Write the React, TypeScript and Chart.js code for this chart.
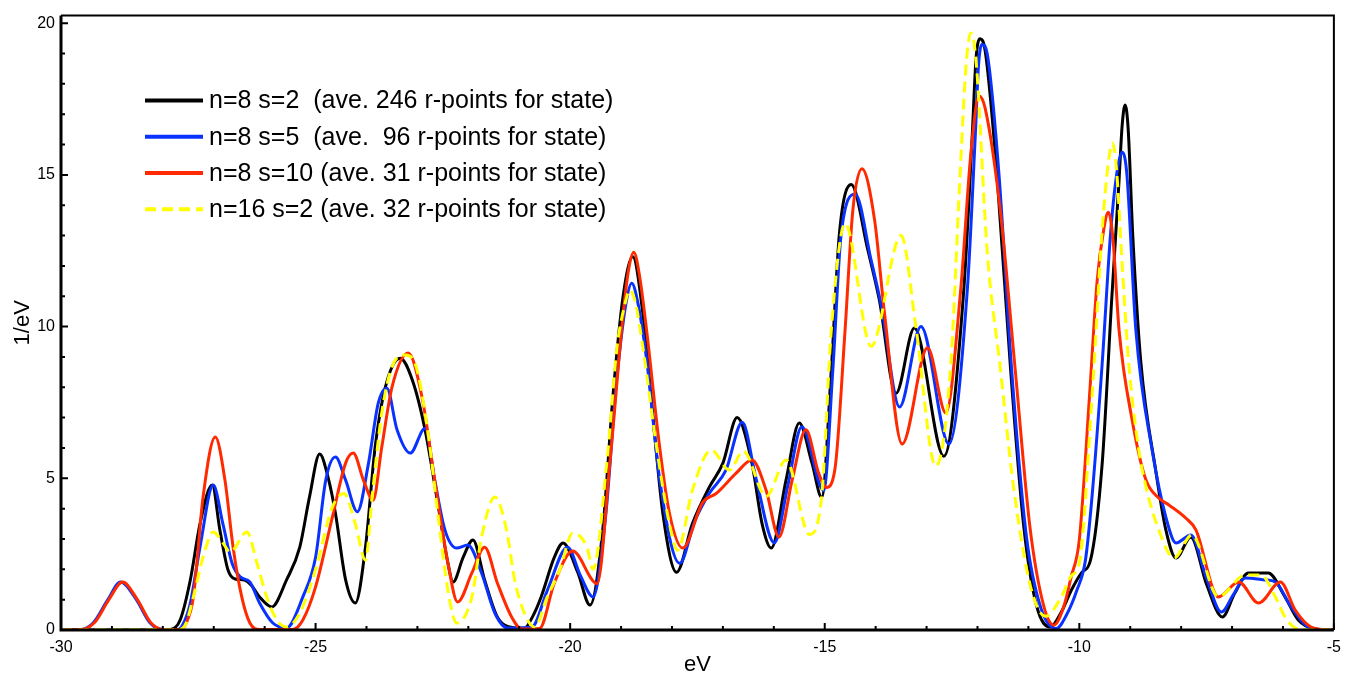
import React, { useEffect, useRef } from 'react';
import { Chart, registerables } from 'chart.js';

Chart.register(...registerables);

// ---- data (eV, 1/eV) ----
const blackX = [-30, -28, -27.85, -27.66, -27.46, -27.27, -27.03, -26.88, -26.72, -26.58, -26.4, -26.25, -26.1, -25.86, -25.57, -25.31, -25.12, -24.92, -24.75, -24.61, -24.41, -24.22, -24.02, -23.83, -23.63, -23.34, -23.1, -22.85, -22.6, -22.4, -22.3, -22.1, -21.91, -21.68, -21.43, -21.09, -20.9, -20.75, -20.57, -20.31, -20.14, -19.85, -19.61, -19.36, -19.16, -18.96, -18.77, -18.57, -18.38, -18.18, -17.91, -17.6, -17.27, -17.0, -16.72, -16.43, -16.23, -16.05, -15.76, -15.5, -15.25, -15.06, -14.87, -14.71, -14.48, -14.15, -13.93, -13.6, -13.24, -12.66, -12.27, -12.1, -12.03, -11.95, -11.85, -11.62, -11.35, -11.09, -10.84, -10.57, -10.35, -10.16, -9.95, -9.78, -9.55, -9.36, -9.22, -9.16, -9.1, -9.04, -8.95, -8.79, -8.5, -8.3, -8.1, -7.81, -7.5, -7.19, -6.95, -6.68, -6.29, -5.96, -5.7, -5.31, -5];
const blackY = [0, 0, 0.02, 0.33, 1.65, 3.5, 4.78, 3.3, 1.98, 1.68, 1.65, 1.45, 1.09, 0.76, 1.65, 2.73, 4.38, 5.8, 5.0, 3.85, 1.65, 0.89, 2.73, 6.03, 8.0, 8.96, 8.24, 6.6, 4.18, 2.2, 1.58, 2.4, 2.97, 1.65, 0.43, 0.07, 0.05, 0.4, 1.09, 2.4, 2.87, 1.9, 0.82, 3.3, 7.7, 11.0, 12.3, 10.4, 7.15, 3.85, 1.9, 3.5, 4.7, 5.5, 7.0, 5.5, 3.5, 2.7, 4.94, 6.82, 5.5, 4.38, 8.6, 13.1, 14.68, 12.5, 10.9, 7.8, 9.95, 5.73, 11.18, 16.4, 18.8, 19.49, 19.1, 15.07, 8.6, 3.4, 0.8, 0.1, 0.6, 1.3, 1.9, 2.3, 5.5, 11.0, 14.8, 16.6, 17.3, 16.5, 13.0, 8.8, 5.27, 3.3, 2.37, 3.06, 1.5, 0.43, 1.2, 1.88, 1.88, 1.09, 0.33, 0.02, 0];

const blueX = [-30, -29.6, -29.36, -29.08, -28.83, -28.52, -28.26, -28.0, -27.7, -27.6, -27.46, -27.27, -27.01, -26.82, -26.64, -26.48, -26.29, -26.1, -25.84, -25.57, -25.25, -25.0, -24.8, -24.61, -24.41, -24.18, -23.96, -23.77, -23.6, -23.4, -23.14, -22.85, -22.66, -22.46, -22.23, -22.01, -21.74, -21.48, -21.23, -20.75, -20.45, -20.05, -19.8, -19.55, -19.3, -19.1, -18.9, -18.79, -18.66, -18.49, -18.24, -17.85, -17.55, -17.27, -16.94, -16.62, -16.35, -15.99, -15.72, -15.45, -15.02, -14.84, -14.68, -14.4, -14.09, -13.89, -13.53, -13.11, -12.56, -12.2, -12.04, -11.98, -11.91, -11.8, -11.58, -11.33, -11.04, -10.75, -10.45, -10.25, -10.05, -9.88, -9.75, -9.55, -9.38, -9.25, -9.16, -9.07, -8.89, -8.57, -8.3, -8.1, -7.81, -7.5, -7.21, -6.98, -6.74, -6.35, -6.15, -5.84, -5.51, -5.2, -5];
const blueY = [0, 0.02, 0.25, 1.0, 1.58, 1.0, 0.25, 0.02, 0.02, 0.2, 0.89, 2.73, 4.78, 3.5, 2.2, 1.75, 1.58, 0.89, 0.23, 0.07, 1.09, 2.4, 4.94, 5.7, 4.94, 3.9, 5.5, 7.47, 7.97, 6.6, 5.83, 6.65, 4.94, 3.3, 2.7, 2.8, 1.88, 0.56, 0.07, 0.1, 1.3, 2.73, 1.8, 1.09, 3.8, 8.0, 10.8, 11.43, 10.7, 8.8, 4.94, 2.2, 3.6, 4.5, 5.27, 6.85, 5.0, 2.87, 4.8, 6.7, 4.6, 8.6, 13.0, 14.36, 12.2, 10.7, 7.35, 10.0, 6.13, 11.2, 16.4, 18.6, 19.3, 18.9, 15.07, 8.6, 3.1, 0.7, 0.05, 0.5, 1.3, 2.3, 4.4, 8.8, 13.2, 15.2, 15.75, 15.1, 9.9, 5.93, 3.72, 2.87, 3.13, 1.7, 0.59, 1.15, 1.71, 1.65, 1.58, 0.76, 0.1, 0.01, 0];

const redX = [-30, -29.6, -29.34, -29.06, -28.79, -28.5, -28.24, -28.0, -27.65, -27.55, -27.4, -27.21, -26.97, -26.78, -26.62, -26.45, -26.29, -26.1, -25.45, -25.25, -25.0, -24.67, -24.41, -24.26, -24.06, -23.87, -23.7, -23.5, -23.18, -22.91, -22.66, -22.4, -22.21, -21.93, -21.68, -21.43, -21.15, -20.95, -20.6, -20.31, -19.95, -19.47, -19.22, -18.96, -18.85, -18.75, -18.64, -18.5, -18.24, -18.05, -17.79, -17.4, -17.13, -16.74, -16.43, -16.15, -15.9, -15.64, -15.37, -15.12, -14.97, -14.8, -14.6, -14.45, -14.27, -14.02, -13.83, -13.48, -12.98, -12.62, -12.33, -12.13, -11.97, -11.85, -11.55, -11.26, -10.97, -10.7, -10.5, -10.3, -10.16, -10.0, -9.8, -9.65, -9.52, -9.43, -9.34, -9.22, -8.96, -8.69, -8.44, -8.24, -7.91, -7.71, -7.27, -6.87, -6.48, -6.05, -5.76, -5.45, -5.15, -5];
const redY = [0, 0.02, 0.25, 1.0, 1.58, 1.0, 0.25, 0.02, 0.02, 0.2, 1.09, 4.38, 6.36, 4.94, 2.73, 1.09, 0.23, 0.02, 0.02, 0.33, 1.42, 3.72, 5.5, 5.83, 4.94, 4.28, 6.03, 8.0, 9.13, 7.68, 4.94, 2.2, 0.92, 1.88, 2.73, 1.55, 0.43, 0.03, 0.05, 1.55, 2.6, 1.53, 5.5, 10.4, 11.9, 12.45, 11.7, 9.9, 6.0, 3.85, 2.7, 4.2, 4.5, 5.17, 5.6, 4.6, 3.06, 4.94, 6.6, 5.17, 4.7, 5.3, 9.9, 13.8, 15.2, 13.5, 10.5, 6.13, 9.3, 7.15, 11.2, 15.7, 17.6, 17.2, 13.8, 8.6, 3.4, 0.8, 0.16, 0.8, 1.75, 2.97, 7.7, 11.5, 13.2, 13.77, 12.9, 9.9, 6.9, 4.94, 4.35, 4.12, 3.69, 3.3, 1.09, 1.58, 0.89, 1.58, 0.66, 0.1, 0.01, 0];

const yellowX = [-30, -27.7, -27.55, -27.4, -27.21, -27.01, -26.82, -26.68, -26.35, -26.15, -25.96, -25.76, -25.57, -25.31, -25.0, -24.67, -24.44, -24.22, -24.02, -23.89, -23.7, -23.5, -23.24, -23.05, -22.8, -22.6, -22.4, -22.23, -21.93, -21.74, -21.48, -21.25, -21.09, -20.9, -20.7, -20.45, -20.2, -19.95, -19.67, -19.55, -19.28, -19.08, -18.93, -18.83, -18.72, -18.57, -18.3, -18.05, -17.89, -17.6, -17.23, -16.87, -16.6, -16.15, -15.76, -15.3, -15.06, -14.87, -14.6, -14.09, -13.5, -13.21, -12.82, -12.53, -12.34, -12.22, -12.13, -12.03, -11.81, -11.55, -11.29, -10.96, -10.66, -10.35, -10.15, -10.0, -9.75, -9.55, -9.43, -9.35, -9.27, -9.16, -9.03, -8.84, -8.69, -8.44, -8.14, -7.79, -7.27, -6.74, -6.43, -6.15, -5.96, -5.76, -5.5, -5];
const yellowY = [0, 0.01, 0.2, 1.09, 2.4, 3.23, 2.87, 2.57, 3.23, 2.2, 1.09, 0.33, 0.1, 0.56, 2.0, 4.05, 4.5, 3.5, 2.3, 4.38, 7.15, 8.67, 9.06, 8.8, 6.6, 3.85, 1.3, 0.23, 1.09, 3.06, 4.38, 3.3, 1.65, 0.56, 0.1, 1.09, 2.0, 3.2, 2.73, 2.0, 5.5, 9.3, 10.7, 11.2, 10.8, 9.3, 6.0, 3.5, 2.63, 4.6, 5.93, 5.27, 5.9, 4.4, 5.6, 3.15, 4.4, 9.9, 13.4, 9.35, 13.0, 10.0, 5.4, 8.6, 15.07, 18.7, 19.68, 18.8, 12.5, 8.6, 4.7, 1.45, 0.45, 1.1, 1.8, 2.2, 7.7, 13.2, 15.4, 16.05, 15.2, 12.1, 8.8, 6.03, 4.71, 3.3, 2.37, 3.13, 1.1, 1.81, 1.81, 1.09, 0.43, 0.07, 0, 0];

const seriesLabels = [
  'n=8 s=2  (ave. 246 r-points for state)',
  'n=8 s=5  (ave.  96 r-points for state)',
  'n=8 s=10 (ave. 31 r-points for state)',
  'n=16 s=2 (ave. 32 r-points for state)',
];

const xMajorTicks = [-30, -25, -20, -15, -10, -5];
const xMinorTicks = [-29, -28, -27, -26, -24, -23, -22, -21, -19, -18, -17, -16, -14, -13, -12, -11, -9, -8, -7, -6];
const yMajorTicks = [0, 5, 10, 15, 20];
const yMinorTicks = [1, 2, 3, 4, 6, 7, 8, 9, 11, 12, 13, 14, 16, 17, 18, 19];

const FONT = "'Liberation Sans', Arial, Helvetica, sans-serif";

export default function App() {
  const ref = useRef<HTMLCanvasElement>(null);

  useEffect(() => {
    const canvas = ref.current;
    if (!canvas) return;
    const toPts = (xs: number[], ys: number[]) => xs.map((x, i) => ({ x, y: ys[i] }));

    const framePlugin = {
      id: 'frameTicksLegend',
      afterDatasetsDraw(chart: any) {
        const { ctx, chartArea: a, scales } = chart;
        const xs = scales.x;
        const ys = scales.y;
        ctx.save();
        ctx.strokeStyle = '#000';
        ctx.lineWidth = 2;
        ctx.beginPath();
        ctx.moveTo(a.left, a.top);
        ctx.lineTo(a.right, a.top);
        ctx.lineTo(a.right, a.bottom);
        ctx.stroke();
        ctx.lineWidth = 3;
        ctx.beginPath();
        ctx.moveTo(a.left, a.top);
        ctx.lineTo(a.left, a.bottom);
        ctx.lineTo(a.right, a.bottom);
        ctx.stroke();
        ctx.lineWidth = 2;
        ctx.beginPath();
        xMajorTicks.forEach((v) => {
          const p = xs.getPixelForValue(v);
          ctx.moveTo(p, a.bottom);
          ctx.lineTo(p, a.bottom - 7);
        });
        xMinorTicks.forEach((v) => {
          const p = xs.getPixelForValue(v);
          ctx.moveTo(p, a.bottom);
          ctx.lineTo(p, a.bottom - 4);
        });
        yMajorTicks.forEach((v) => {
          const p = ys.getPixelForValue(v);
          ctx.moveTo(a.left, p);
          ctx.lineTo(a.left + 7, p);
        });
        yMinorTicks.forEach((v) => {
          const p = ys.getPixelForValue(v);
          ctx.moveTo(a.left, p);
          ctx.lineTo(a.left + 4, p);
        });
        ctx.stroke();

        const lx0 = a.left + 84;
        const lx1 = a.left + 142;
        const tx = a.left + 148;
        ctx.font = `25px ${FONT}`;
        ctx.textBaseline = 'middle';
        ctx.textAlign = 'left';
        chart.data.datasets.forEach((ds: any, i: number) => {
          const y = a.top + 85 + i * 36.2;
          ctx.beginPath();
          ctx.strokeStyle = ds.borderColor;
          ctx.lineWidth = 4;
          ctx.setLineDash(ds.borderDash || []);
          ctx.moveTo(lx0, y);
          ctx.lineTo(lx1, y);
          ctx.stroke();
          ctx.setLineDash([]);
          ctx.fillStyle = '#000';
          ctx.fillText(ds.label, tx, y + 1);
        });
        ctx.restore();
      },
    };

    const tickFont = { family: FONT, size: 16 };
    const titleFont = { family: FONT, size: 22 };

    const chart = new Chart(canvas, {
      type: 'line',
      data: {
        datasets: [
          { label: seriesLabels[0], data: toPts(blackX, blackY), borderColor: '#000000', borderWidth: 3, order: 3 },
          { label: seriesLabels[1], data: toPts(blueX, blueY), borderColor: '#0a32ff', borderWidth: 3, order: 2 },
          { label: seriesLabels[2], data: toPts(redX, redY), borderColor: '#ff2a00', borderWidth: 3, order: 1 },
          { label: seriesLabels[3], data: toPts(yellowX, yellowY), borderColor: '#ffff00', borderWidth: 3, borderDash: [11, 6], order: 0 },
        ],
      },
      options: {
        animation: false,
        responsive: false,
        devicePixelRatio: 1,
        layout: { padding: { top: 15, right: 8, left: 0, bottom: 0 } },
        elements: {
          point: { radius: 0, hoverRadius: 0 },
          line: { cubicInterpolationMode: 'monotone', borderJoinStyle: 'round', borderCapStyle: 'butt' },
        },
        plugins: { legend: { display: false }, tooltip: { enabled: false } },
        events: [],
        scales: {
          x: {
            type: 'linear',
            min: -30,
            max: -5,
            grid: { display: false, drawTicks: false },
            border: { display: false },
            ticks: { font: tickFont, color: '#000', padding: 8, maxRotation: 0, autoSkip: false, callback: (v: any) => String(v) },
            afterBuildTicks: (s: any) => { s.ticks = xMajorTicks.map((v) => ({ value: v })); },
            afterFit: (s: any) => { s.height = 53; },
            title: { display: true, text: 'eV', font: titleFont, color: '#000', padding: { top: 0, bottom: 5 } },
          },
          y: {
            type: 'linear',
            min: 0,
            max: 20.25,
            grid: { display: false, drawTicks: false },
            border: { display: false },
            ticks: { font: tickFont, color: '#000', padding: 6, autoSkip: false, callback: (v: any) => String(v) },
            afterBuildTicks: (s: any) => { s.ticks = yMajorTicks.map((v) => ({ value: v })); },
            afterFit: (s: any) => { s.width = 61; },
            title: { display: true, text: '1/eV', font: titleFont, color: '#000', padding: { top: 10, bottom: 0 } },
          },
        },
      } as any,
      plugins: [framePlugin],
    });
    return () => chart.destroy();
  }, []);

  return (
    <div style={{ position: 'fixed', left: 0, top: 0, width: 1349, height: 683, background: '#fff' }}>
      <canvas ref={ref} width={1349} height={683} style={{ width: 1349, height: 683, display: 'block' }} />
    </div>
  );
}
